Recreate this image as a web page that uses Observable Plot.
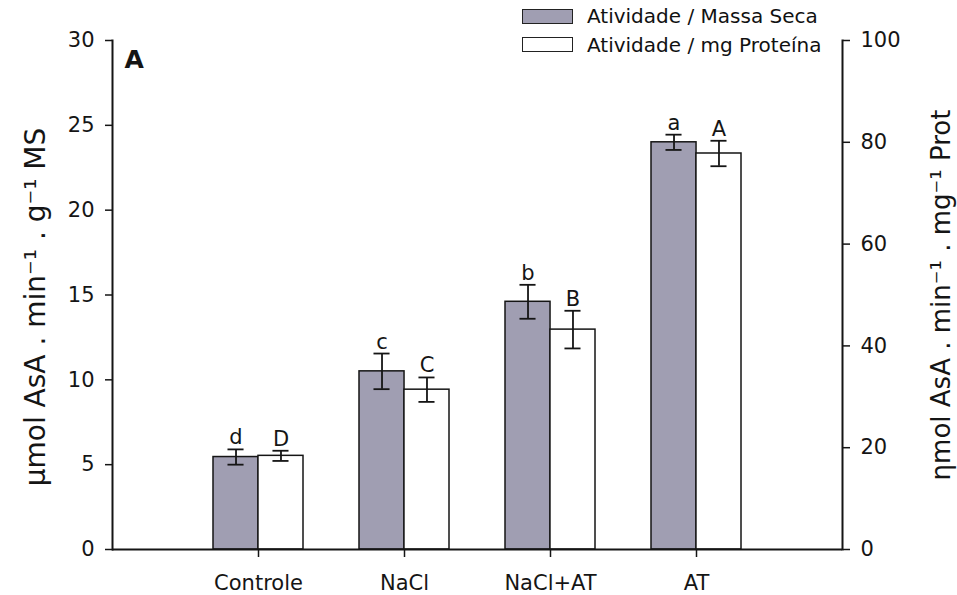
<!DOCTYPE html>
<html>
<head>
<meta charset="utf-8">
<script src="https://cdn.jsdelivr.net/npm/d3@7"></script>
<script src="https://cdn.jsdelivr.net/npm/@observablehq/plot@0.6"></script>
<style>
  body { margin: 0; background: #fff; }
  #wrap { position: relative; width: 957px; height: 595px; font-family: "DejaVu Sans", sans-serif; }
  .sw { position: absolute; left: 522px; width: 49px; height: 13px; border: 1.5px solid #222; }
  .lt { position: absolute; left: 587px; font-size: 20px; line-height: 20px; color: #111; white-space: nowrap; }
</style>
</head>
<body>
<div id="wrap">
  <div class="sw" style="top:9px; background:#a09eb2;"></div>
  <div class="lt" style="top:6px;">Atividade / Massa Seca</div>
  <div class="sw" style="top:37px; background:#fff;"></div>
  <div class="lt" style="top:35px;">Atividade / mg Proteína</div>
</div>
<script>
// ---- data ----
const categories = ["Controle", "NaCl", "NaCl+AT", "AT"];
const massaSeca = [5.45, 10.5, 14.6, 24.0];          // µmol AsA . min-1 . g-1 MS (left axis)
const massaSecaErr = [0.45, 1.05, 1.0, 0.45];
const proteina = [18.4, 31.4, 43.2, 77.8];            // ηmol AsA . min-1 . mg-1 Prot (right axis)
const proteinaErr = [1.0, 2.4, 3.7, 2.5];
const lettersMS = ["d", "c", "b", "a"];
const lettersProt = ["D", "C", "B", "A"];
const leftTicks = [0, 5, 10, 15, 20, 25, 30];
const rightTicks = [0, 20, 40, 60, 80, 100];
const panelLabel = ["A"];
const leftTitle = ["µmol AsA . min⁻¹ . g⁻¹ MS"];
const rightTitle = ["ηmol AsA . min⁻¹ . mg⁻¹ Prot"];

// ---- layout ----
const W = 957, H = 595;
const mL = 112, mR = 115, mT = 40, mB = 46;
const pInner = 0.384, pOuter = 0.692;
const k = leftTicks[leftTicks.length - 1] / rightTicks[rightTicks.length - 1]; // right -> left units
const step = (W - mL - mR) / (categories.length - pInner + 2 * pOuter);
const bw = step * (1 - pInner);
const capW = 16;

const rows = categories.map((c, i) => ({
  cat: c,
  ms: massaSeca[i], msErr: massaSecaErr[i], lms: lettersMS[i],
  pr: proteina[i] * k, prErr: proteinaErr[i] * k, lpr: lettersProt[i]
}));

const ink = "#151515";
const chart = Plot.plot({
  width: W, height: H,
  marginLeft: mL, marginRight: mR, marginTop: mT, marginBottom: mB,
  style: { fontFamily: "DejaVu Sans, sans-serif", fontSize: "21px", background: "transparent", color: ink },
  x: { type: "band", domain: categories, paddingInner: pInner, paddingOuter: pOuter, axis: null },
  y: { domain: [0, 30], axis: null },
  marks: [
    // bars
    Plot.barY(rows, { x: "cat", y: "ms", fill: "#a09eb2", stroke: ink, strokeWidth: 1.5, insetRight: bw / 2 }),
    Plot.barY(rows, { x: "cat", y: "pr", fill: "white", stroke: ink, strokeWidth: 1.5, insetLeft: bw / 2 }),
    // error bars
    Plot.ruleX(rows, { x: "cat", y1: d => d.ms - d.msErr, y2: d => d.ms + d.msErr, dx: -bw / 4, stroke: ink, strokeWidth: 1.8 }),
    Plot.ruleX(rows, { x: "cat", y1: d => d.pr - d.prErr, y2: d => d.pr + d.prErr, dx: bw / 4, stroke: ink, strokeWidth: 1.8 }),
    Plot.tickY(rows, { x: "cat", y: d => d.ms + d.msErr, insetLeft: bw / 4 - capW / 2, insetRight: 3 * bw / 4 - capW / 2, stroke: ink, strokeWidth: 1.8 }),
    Plot.tickY(rows, { x: "cat", y: d => d.ms - d.msErr, insetLeft: bw / 4 - capW / 2, insetRight: 3 * bw / 4 - capW / 2, stroke: ink, strokeWidth: 1.8 }),
    Plot.tickY(rows, { x: "cat", y: d => d.pr + d.prErr, insetLeft: 3 * bw / 4 - capW / 2, insetRight: bw / 4 - capW / 2, stroke: ink, strokeWidth: 1.8 }),
    Plot.tickY(rows, { x: "cat", y: d => d.pr - d.prErr, insetLeft: 3 * bw / 4 - capW / 2, insetRight: bw / 4 - capW / 2, stroke: ink, strokeWidth: 1.8 }),
    // significance letters
    Plot.text(rows, { x: "cat", y: d => d.ms + d.msErr, text: "lms", dx: -bw / 4, dy: -5, lineAnchor: "bottom", fontSize: 21, fill: ink }),
    Plot.text(rows, { x: "cat", y: d => d.pr + d.prErr, text: "lpr", dx: bw / 4, dy: -5, lineAnchor: "bottom", fontSize: 21, fill: ink }),
    // axis lines
    Plot.ruleY([0], { stroke: ink, strokeWidth: 2 }),
    Plot.frame({ anchor: "left", stroke: ink, strokeWidth: 2 }),
    Plot.frame({ anchor: "right", stroke: ink, strokeWidth: 2 }),
    // axes
    Plot.axisY({ anchor: "left", ticks: leftTicks, tickSize: 7, tickPadding: 11, label: null, fontSize: 21, stroke: ink, strokeWidth: 1.5 }),
    Plot.axisY({ anchor: "right", ticks: rightTicks.map(v => v * k), tickFormat: v => String(Math.round(v / k)), tickSize: 7, tickPadding: 11, label: null, fontSize: 21, stroke: ink, strokeWidth: 1.5 }),
    Plot.axisX({ anchor: "bottom", tickSize: 8, tickPadding: 18, label: null, fontSize: 21, stroke: ink, strokeWidth: 1.5 }),
    // titles
    Plot.text(leftTitle, { frameAnchor: "left", textAnchor: "middle", lineAnchor: "middle", dx: -76, dy: 12, rotate: -90, fontSize: 28, fill: ink }),
    Plot.text(rightTitle, { frameAnchor: "right", textAnchor: "middle", lineAnchor: "middle", dx: 99, dy: 0, rotate: -90, fontSize: 26, fill: ink }),
    Plot.text(panelLabel, { frameAnchor: "top-left", dx: 12, dy: 10, lineAnchor: "top", textAnchor: "start", fontSize: 25, fontWeight: "bold", fill: ink })
  ]
});
chart.style.position = "absolute";
chart.style.left = "0px";
chart.style.top = "0px";
document.getElementById("wrap").prepend(chart);
</script>
</body>
</html>
